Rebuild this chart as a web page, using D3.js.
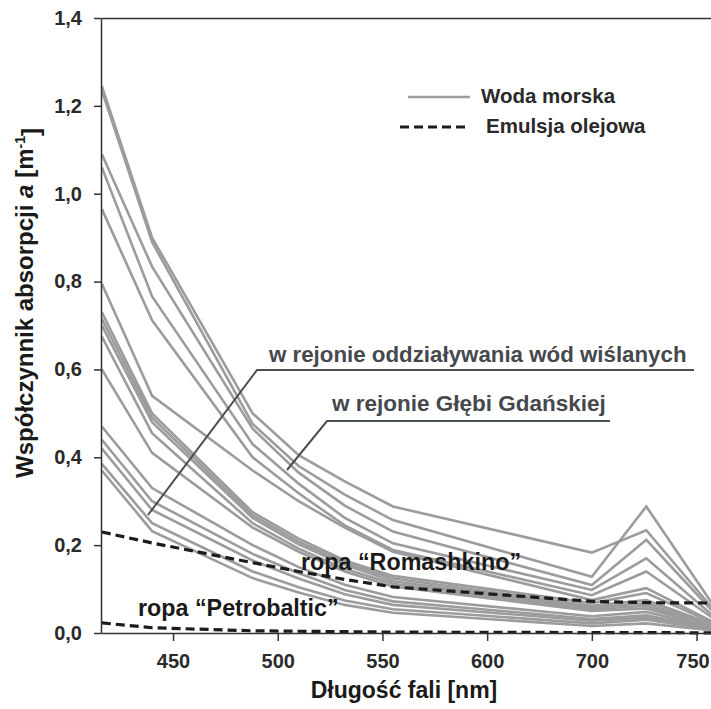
<!DOCTYPE html>
<html>
<head>
<meta charset="utf-8">
<script src="https://cdn.jsdelivr.net/npm/d3@7"></script>
<style>
  body { margin: 0; background: #fff; }
  text { font-family: "Liberation Sans", Arial, sans-serif; font-weight: bold; }
</style>
</head>
<body>
<svg id="drawing_region"></svg>
<script>
// wavelengths of the measured spectra [nm]
const wavelengths = [416, 440, 488, 510, 532, 555, 650, 676, 715];

// sea water spectra (Woda morska), one array per station
const seaWater = [
  [1.245, 0.900, 0.500, 0.405, 0.345, 0.288, 0.183, 0.234, 0.015],
  [1.235, 0.890, 0.476, 0.380, 0.315, 0.257, 0.128, 0.288, 0.014],
  [1.090, 0.834, 0.465, 0.365, 0.290, 0.231, 0.109, 0.212, 0.012],
  [1.060, 0.766, 0.430, 0.340, 0.262, 0.204, 0.098, 0.170, 0.010],
  [0.965, 0.712, 0.400, 0.318, 0.245, 0.189, 0.086, 0.140, 0.010],
  [0.795, 0.540, 0.370, 0.300, 0.240, 0.185, 0.075, 0.102, 0.008],
  [0.730, 0.500, 0.275, 0.215, 0.165, 0.130, 0.068, 0.091, 0.008],
  [0.715, 0.490, 0.268, 0.208, 0.160, 0.124, 0.062, 0.075, 0.007],
  [0.700, 0.480, 0.262, 0.202, 0.155, 0.118, 0.058, 0.068, 0.006],
  [0.675, 0.455, 0.250, 0.192, 0.146, 0.112, 0.054, 0.062, 0.006],
  [0.600, 0.410, 0.240, 0.185, 0.140, 0.106, 0.050, 0.056, 0.005],
  [0.470, 0.330, 0.200, 0.150, 0.110, 0.082, 0.038, 0.048, 0.004],
  [0.440, 0.300, 0.180, 0.136, 0.098, 0.072, 0.032, 0.040, 0.004],
  [0.420, 0.280, 0.165, 0.124, 0.088, 0.064, 0.028, 0.035, 0.003],
  [0.385, 0.250, 0.140, 0.104, 0.074, 0.054, 0.022, 0.030, 0.003],
  [0.370, 0.232, 0.125, 0.092, 0.064, 0.046, 0.016, 0.022, 0.002]
];

// oil emulsions (Emulsja olejowa)
const romashkino  = [0.230, 0.205, 0.160, 0.140, 0.122, 0.105, 0.072, 0.069, 0.068];
const petrobaltic = [0.023, 0.012, 0.005, 0.004, 0.003, 0.002, 0.001, 0.001, 0.000];

// axis ticks as printed on the original figure
const xTickValues = [450, 500, 550, 600, 650, 700];
const xTickLabels = ['450', '500', '550', '600', '700', '750'];
const yTickValues = [0, 0.2, 0.4, 0.6, 0.8, 1.0, 1.2, 1.4];

const config = {
  width: 711,
  height: 709,
  margin: {top: 18, right: 0, bottom: 76, left: 101},
  xdomain: [415.6, 706.9],
  ydomain: [0, 1.4]
};

const svg = d3.select('#drawing_region')
  .attr('width', config.width)
  .attr('height', config.height);

const inner_width = config.width - config.margin.left - config.margin.right;
const inner_height = config.height - config.margin.top - config.margin.bottom;

const chart = svg.append('g')
  .attr('transform', `translate(${config.margin.left}, ${config.margin.top})`);

const xscale = d3.scaleLinear().domain(config.xdomain).range([0, inner_width]);
const yscale = d3.scaleLinear().domain(config.ydomain).range([inner_height, 0]);

svg.append('clipPath').attr('id', 'plot_clip')
  .append('rect')
  .attr('x', 0).attr('y', -5)
  .attr('width', inner_width).attr('height', inner_height + 10);

const line = d3.line()
  .x((d, i) => xscale(wavelengths[i]))
  .y(d => yscale(d));

const lines_group = chart.append('g').attr('clip-path', 'url(#plot_clip)');

lines_group.selectAll('.sea')
  .data(seaWater)
  .join('path')
  .attr('class', 'sea')
  .attr('d', line)
  .attr('fill', 'none')
  .attr('stroke', '#9c9c9e')
  .attr('stroke-width', 2.6);

lines_group.selectAll('.oil')
  .data([romashkino, petrobaltic])
  .join('path')
  .attr('class', 'oil')
  .attr('d', line)
  .attr('fill', 'none')
  .attr('stroke', '#1c1c1c')
  .attr('stroke-width', 3.2)
  .attr('stroke-dasharray', '9,5');

// axes
const comma = v => d3.format('.1f')(v).replace('.', ',');

const yaxis_group = chart.append('g')
  .call(d3.axisLeft(yscale).tickValues(yTickValues).tickFormat(comma).tickSize(7).tickSizeOuter(0));

const xaxis_group = chart.append('g')
  .attr('transform', `translate(0, ${inner_height})`)
  .call(d3.axisBottom(xscale).tickValues(xTickValues)
    .tickFormat((d, i) => xTickLabels[i]).tickSize(8).tickSizeOuter(0));

const top_group = chart.append('g')
  .call(d3.axisTop(xscale).tickValues([]).tickSizeOuter(0));

[yaxis_group, xaxis_group, top_group].forEach(g => {
  g.select('.domain').attr('stroke', '#333').attr('stroke-width', 1.5);
  g.selectAll('.tick line').attr('stroke', '#333').attr('stroke-width', 1.5);
  g.selectAll('.tick text')
    .attr('fill', '#2a2a2a')
    .style('font-size', '20px')
    .style('font-family', '"Liberation Sans", Arial, sans-serif')
    .style('font-weight', 'bold');
});
yaxis_group.selectAll('.tick text').attr('x', -19);
xaxis_group.selectAll('.tick text').attr('y', 21);
// last label sits on the cropped right edge
xaxis_group.selectAll('.tick text').filter((d, i) => i === xTickValues.length - 1).attr('dx', -4);

// axis titles
svg.append('text')
  .attr('x', 404)
  .attr('y', 698)
  .attr('text-anchor', 'middle')
  .attr('fill', '#1a1a1a')
  .style('font-size', '23px')
  .text('Długość fali [nm]');

const ylabel = svg.append('text')
  .attr('transform', 'translate(33, 303) rotate(-90)')
  .attr('text-anchor', 'middle')
  .attr('fill', '#1a1a1a')
  .style('font-size', '24px');
ylabel.append('tspan').text('Współczynnik absorpcji ');
ylabel.append('tspan').style('font-style', 'italic').text('a');
ylabel.append('tspan').text(' [m');
ylabel.append('tspan').attr('dy', '-0.6em').style('font-size', '14px').text('-1');
ylabel.append('tspan').attr('dy', '0.6em').text(']');

// legend
const legend = svg.append('g');
legend.append('line')
  .attr('x1', 408).attr('x2', 470).attr('y1', 97).attr('y2', 97)
  .attr('stroke', '#9c9c9e').attr('stroke-width', 2.6);
legend.append('text')
  .attr('x', 481).attr('y', 103)
  .attr('fill', '#2a2a2a')
  .style('font-size', '20.5px')
  .text('Woda morska');
legend.append('line')
  .attr('x1', 400).attr('x2', 470).attr('y1', 127).attr('y2', 127)
  .attr('stroke', '#1c1c1c').attr('stroke-width', 3.2).attr('stroke-dasharray', '9,5');
legend.append('text')
  .attr('x', 486).attr('y', 133)
  .attr('fill', '#2a2a2a')
  .style('font-size', '20.5px')
  .text('Emulsja olejowa');

// annotations
const leader = d3.line();
svg.append('path')
  .attr('d', leader([[694, 370], [257, 370], [148, 515]]))
  .attr('fill', 'none').attr('stroke', '#4a4f54').attr('stroke-width', 2);
svg.append('text')
  .attr('x', 269).attr('y', 362)
  .attr('fill', '#45484c')
  .style('font-size', '22.3px')
  .text('w rejonie oddziaływania wód wiślanych');

svg.append('path')
  .attr('d', leader([[610, 421], [327, 421], [287, 470]]))
  .attr('fill', 'none').attr('stroke', '#4a4f54').attr('stroke-width', 2);
svg.append('text')
  .attr('x', 332).attr('y', 411)
  .attr('fill', '#45484c')
  .style('font-size', '22.5px')
  .text('w rejonie Głębi Gdańskiej');

svg.append('text')
  .attr('x', 301).attr('y', 570)
  .attr('fill', '#1a1a1a')
  .style('font-size', '23.3px')
  .text('ropa “Romashkino”');

svg.append('text')
  .attr('x', 138).attr('y', 616)
  .attr('fill', '#1a1a1a')
  .style('font-size', '23.3px')
  .text('ropa “Petrobaltic”');
</script>
</body>
</html>
